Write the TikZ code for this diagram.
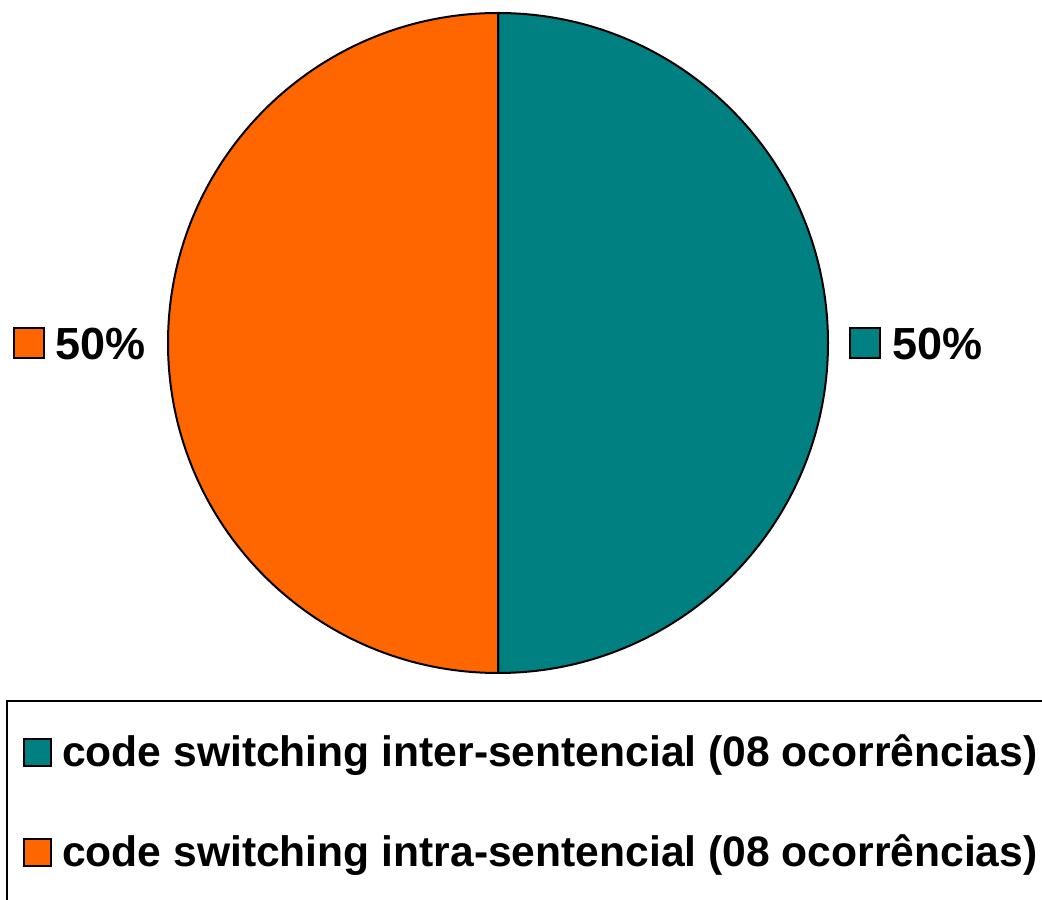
\documentclass[tikz,border=0pt]{standalone}
\usepackage{fontspec}
\setmainfont{Liberation Sans}
\definecolor{interteal}{HTML}{008080}
\definecolor{intraorange}{HTML}{FF6600}
\tikzset{
  slice/.style={draw=black, line width=2pt, line join=round},
  swatch/.style={draw=black, line width=1.8pt, minimum width=28pt, minimum height=28pt, inner sep=0pt, anchor=south west},
  pctlabel/.style={font=\fontsize{45}{50}\selectfont\bfseries, inner sep=0pt, anchor=base west},
  legendtext/.style={font=\fontsize{42.6}{48}\selectfont\bfseries, inner sep=0pt, anchor=base west},
}
\begin{document}
\begin{tikzpicture}[x=1pt, y=1pt]
  \useasboundingbox (0,0) rectangle (1042,900);
  \clip (0,0) rectangle (1042,900);
  \fill[white] (0,0) rectangle (1042,900);

  % pie: two equal halves
  \coordinate (c) at (498,557);
  \draw[slice, fill=interteal] (c) -- (498,887) arc[start angle=90, end angle=-90, radius=330] -- cycle;
  \draw[slice, fill=intraorange] (c) -- (498,887) arc[start angle=90, end angle=270, radius=330] -- cycle;

  % percentage labels
  \node[swatch, fill=intraorange, minimum width=30pt, minimum height=30pt] (lsq) at (13,541) {};
  \node[pctlabel] (lpct) at (55,540) {50\%};
  \node[swatch, fill=interteal, minimum width=30pt, minimum height=30pt] (rsq) at (849,541) {};
  \node[pctlabel] (rpct) at (892,540) {50\%};

  % legend
  \draw[line width=2pt] (1060,199) -- (7,199) -- (7,-20);
  \node[swatch, fill=interteal, minimum width=27pt, minimum height=27pt] (leg1sq) at (23,133) {};
  \node[legendtext] (leg1) at (62,133) {code switching inter-sentencial (08 ocorrências)};
  \node[swatch, fill=intraorange, minimum width=27pt, minimum height=27pt] (leg2sq) at (23,33) {};
  \node[legendtext] (leg2) at (62,33) {code switching intra-sentencial (08 ocorrências)};
\end{tikzpicture}
\end{document}
